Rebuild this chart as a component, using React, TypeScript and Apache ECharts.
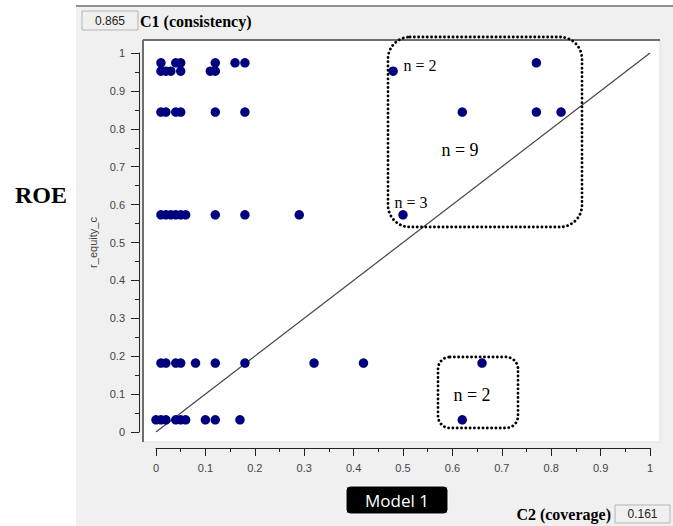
import React, { useEffect, useRef } from "react";
import * as echarts from "echarts";

// Consistency levels (y) and coverage values (x) of the cases at each level
const yLevels = [0.974, 0.952, 0.844, 0.573, 0.182, 0.032];
const xAt097 = [0.01, 0.04, 0.05, 0.12, 0.16, 0.18, 0.77];
const xAt095 = [0.01, 0.02, 0.03, 0.05, 0.11, 0.12, 0.48];
const xAt084 = [0.01, 0.02, 0.04, 0.05, 0.12, 0.18, 0.62, 0.77, 0.82];
const xAt057 = [0.01, 0.02, 0.03, 0.04, 0.05, 0.06, 0.12, 0.18, 0.29, 0.5];
const xAt018 = [0.01, 0.02, 0.04, 0.05, 0.08, 0.12, 0.18, 0.32, 0.42, 0.66];
const xAt003 = [0.0, 0.01, 0.02, 0.04, 0.05, 0.06, 0.1, 0.12, 0.17, 0.62];
const rows = [xAt097, xAt095, xAt084, xAt057, xAt018, xAt003];

const diagonal = [0, 1];

const consistencyValue = "0.865";
const coverageValue = "0.161";
const annotations = ["n = 2", "n = 9", "n = 3", "n = 2"];

export default function App() {
  const ref = useRef<HTMLDivElement>(null);
  useEffect(() => {
    if (!ref.current) return;
    const chart = echarts.init(ref.current, null, { renderer: "svg" });
    const points: number[][] = [];
    rows.forEach((xs, i) => xs.forEach((x) => points.push([x, yLevels[i]])));
    const serif = "'Liberation Serif', 'Times New Roman', serif";
    const sans = "'Liberation Sans', Arial, sans-serif";
    const dotted = {
      stroke: "#000",
      fill: "none",
      lineWidth: 2.8,
      lineDash: [0.1, 4.2],
      lineCap: "round",
    };
    chart.setOption({
      animation: false,
      grid: { left: 156, right: 23, top: 53, bottom: 94 },
      xAxis: {
        type: "value",
        min: 0,
        max: 1,
        interval: 0.1,
        offset: 16,
        axisLine: { show: true, onZero: false, lineStyle: { color: "#222", width: 1 } },
        axisTick: { show: true, length: 8, lineStyle: { color: "#222" } },
        minorTick: { show: true, splitNumber: 2, length: 4, lineStyle: { color: "#222" } },
        splitLine: { show: false },
        axisLabel: { margin: 14, color: "#444", fontSize: 11, fontFamily: sans },
      },
      yAxis: {
        type: "value",
        min: 0,
        max: 1,
        interval: 0.1,
        offset: 17,
        name: "r_equity_c",
        nameLocation: "middle",
        nameGap: 36,
        nameTextStyle: { color: "#444", fontSize: 11, fontFamily: sans },
        axisLine: { show: true, onZero: false, lineStyle: { color: "#222", width: 1 } },
        axisTick: { show: true, length: 8, lineStyle: { color: "#222" } },
        minorTick: { show: true, splitNumber: 2, length: 4, lineStyle: { color: "#222" } },
        splitLine: { show: false },
        axisLabel: { margin: 14, color: "#444", fontSize: 11, fontFamily: sans },
      },
      series: [
        {
          type: "line",
          data: [
            [diagonal[0], diagonal[0]],
            [diagonal[1], diagonal[1]],
          ],
          symbol: "none",
          lineStyle: { color: "#444", width: 1.2 },
          z: 3,
        },
        {
          type: "scatter",
          data: points,
          symbolSize: 9.5,
          itemStyle: { color: "#00007f", opacity: 1 },
          z: 4,
        },
      ],
      graphic: [
        { type: "rect", z: -10, shape: { x: 76, y: 6, width: 597, height: 520 }, style: { fill: "#f0f0f0" } },
        { type: "line", z: -9, shape: { x1: 76, y1: 6, x2: 673, y2: 6 }, style: { stroke: "#8a8f98", lineWidth: 2 } },
        { type: "rect", z: -8, shape: { x: 143, y: 40, width: 517, height: 402 }, style: { fill: "#fff", stroke: "#dcdcdc", lineWidth: 1 } },
        { type: "line", z: -7, shape: { x1: 143, y1: 40, x2: 660, y2: 40 }, style: { stroke: "#6e6e6e", lineWidth: 2 } },
        { type: "line", z: -7, shape: { x1: 143, y1: 40, x2: 143, y2: 442 }, style: { stroke: "#6e6e6e", lineWidth: 2 } },
        // consistency box
        { type: "rect", z: 1, shape: { x: 82, y: 11, width: 56, height: 19 }, style: { fill: "#f0f0f0", stroke: "#b4b4b4", lineWidth: 1 } },
        { type: "text", z: 2, x: 110, y: 21, style: { text: consistencyValue, fill: "#222", font: `12px ${sans}`, align: "center", verticalAlign: "middle" } },
        { type: "text", z: 2, x: 140, y: 21, style: { text: "C1 (consistency)", fill: "#000", font: `bold 16px ${serif}`, align: "left", verticalAlign: "middle" } },
        // ROE
        { type: "text", z: 2, x: 41, y: 195, style: { text: "ROE", fill: "#000", font: `bold 24px ${serif}`, align: "center", verticalAlign: "middle" } },
        // Model 1
        { type: "rect", z: 1, shape: { x: 346, y: 486, width: 102, height: 28, r: 4 }, style: { fill: "#000", stroke: "#fff", lineWidth: 1 } },
        { type: "text", z: 2, x: 397, y: 500, style: { text: "Model 1", fill: "#fff", font: `17px 'Open Sans', 'Noto Sans', sans-serif`, align: "center", verticalAlign: "middle" } },
        // coverage
        { type: "text", z: 2, x: 611, y: 514, style: { text: "C2 (coverage)", fill: "#000", font: `bold 16px ${serif}`, align: "right", verticalAlign: "middle" } },
        { type: "rect", z: 1, shape: { x: 615, y: 505, width: 55, height: 18 }, style: { fill: "#f0f0f0", stroke: "#b4b4b4", lineWidth: 1 } },
        { type: "text", z: 2, x: 642.5, y: 514, style: { text: coverageValue, fill: "#222", font: `12px ${sans}`, align: "center", verticalAlign: "middle" } },
        // dotted boxes
        { type: "rect", z: 10, shape: { x: 388, y: 37, width: 194, height: 190, r: 22 }, style: dotted },
        { type: "rect", z: 10, shape: { x: 438, y: 357, width: 80, height: 71, r: 12 }, style: dotted },
        { type: "text", z: 10, x: 420, y: 65, style: { text: annotations[0], fill: "#000", font: `16px ${serif}`, align: "center", verticalAlign: "middle" } },
        { type: "text", z: 10, x: 460, y: 150, style: { text: annotations[1], fill: "#000", font: `18px ${serif}`, align: "center", verticalAlign: "middle" } },
        { type: "text", z: 10, x: 411, y: 202, style: { text: annotations[2], fill: "#000", font: `16px ${serif}`, align: "center", verticalAlign: "middle" } },
        { type: "text", z: 10, x: 472, y: 395, style: { text: annotations[3], fill: "#000", font: `18px ${serif}`, align: "center", verticalAlign: "middle" } },
      ],
    });
    return () => chart.dispose();
  }, []);
  return (
    <div
      ref={ref}
      style={{ position: "fixed", left: 0, top: 0, width: 673, height: 526, background: "#fff" }}
    />
  );
}
